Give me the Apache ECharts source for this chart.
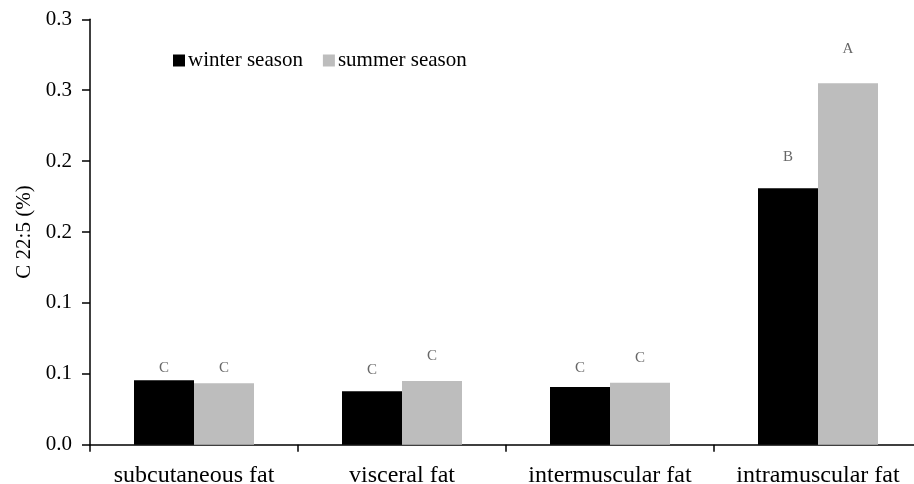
<!DOCTYPE html>
<html>
<head>
<meta charset="utf-8">
<script src="https://cdn.jsdelivr.net/npm/echarts@6/dist/echarts.min.js"></script>
<style>
html,body{margin:0;padding:0;background:#fff;}
#main{width:914px;height:484px;}
</style>
</head>
<body>
<div id="main"></div>
<script>
var categories = ['subcutaneous fat', 'visceral fat', 'intermuscular fat', 'intramuscular fat'];
var winter = [0.0454, 0.0377, 0.0407, 0.1808];
var summer = [0.0433, 0.0449, 0.0437, 0.2549];
var winterLetters = ['C', 'C', 'C', 'B'];
var summerLetters = ['C', 'C', 'C', 'A'];
var winterLetterY = [0.0541, 0.0527, 0.0541, 0.2031];
var summerLetterY = [0.0541, 0.0626, 0.0611, 0.2788];
var yTickLabels = ['0.0', '0.1', '0.1', '0.2', '0.2', '0.3', '0.3'];

var FONT = '"Liberation Serif", "Times New Roman", serif';
var chart = echarts.init(document.getElementById('main'), null, {renderer: 'canvas'});

function letterSeries(name, ys, letters, dx) {
  return {
    name: name,
    type: 'scatter',
    symbolSize: 1,
    itemStyle: {color: 'rgba(0,0,0,0)'},
    silent: true,
    z: 5,
    data: ys.map(function (v, i) { return {value: v, letter: letters[i]}; }),
    label: {
      show: true,
      position: 'inside',
      offset: [dx, 0],
      fontFamily: FONT,
      fontSize: 15,
      color: '#404040',
      formatter: function (p) { return p.data.letter; }
    }
  };
}

var option = {
  animation: false,
  backgroundColor: '#ffffff',
  textStyle: {fontFamily: FONT},
  grid: {left: 90, right: -8, top: 19.3, bottom: 39.3, containLabel: false, outerBoundsMode: 'none'},
  legend: {
    data: ['winter season', 'summer season'],
    left: 168,
    top: 45,
    icon: 'rect',
    itemWidth: 12,
    itemHeight: 12,
    itemGap: 20,
    textStyle: {fontFamily: FONT, fontSize: 21, color: '#000', padding: [0, 0, 0, -2]}
  },
  xAxis: {
    type: 'category',
    data: categories,
    axisLine: {lineStyle: {color: '#000', width: 1.5}},
    axisTick: {show: true, length: 7, lineStyle: {color: '#000', width: 1.5}},
    axisLabel: {fontFamily: FONT, fontSize: 24, color: '#000', margin: 19, interval: 0, hideOverlap: false}
  },
  yAxis: {
    type: 'value',
    min: 0,
    max: 0.3,
    interval: 0.05,
    name: 'C 22:5 (%)',
    nameLocation: 'middle',
    nameGap: 52,
    nameTextStyle: {fontFamily: FONT, fontSize: 21, color: '#000'},
    splitLine: {show: false},
    axisLine: {show: true, lineStyle: {color: '#000', width: 1.5}},
    axisTick: {show: true, length: 8, lineStyle: {color: '#000', width: 1.5}},
    axisLabel: {
      fontFamily: FONT, fontSize: 21, color: '#000', margin: 18,
      formatter: function (v) { return yTickLabels[Math.round(v / 0.05)]; }
    }
  },
  series: [
    {
      name: 'winter season',
      type: 'bar',
      data: winter,
      barWidth: 60,
      barGap: '0%',
      itemStyle: {color: '#000000'}
    },
    {
      name: 'summer season',
      type: 'bar',
      data: summer,
      barWidth: 60,
      itemStyle: {color: '#bdbdbd'}
    },
    letterSeries('winter letters', winterLetterY, winterLetters, -30),
    letterSeries('summer letters', summerLetterY, summerLetters, 30)
  ]
};
chart.setOption(option);
</script>
</body>
</html>
